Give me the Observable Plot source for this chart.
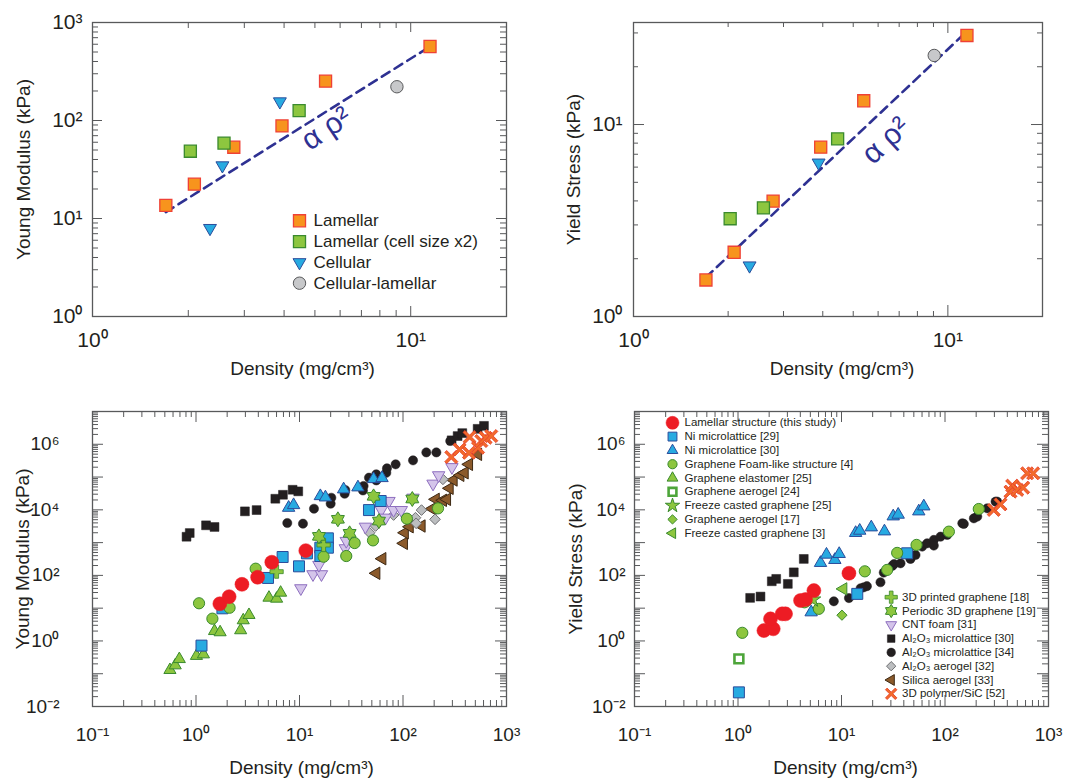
<!DOCTYPE html>
<html><head><meta charset="utf-8">
<script src="https://cdn.jsdelivr.net/npm/d3@7"></script>
<script src="https://cdn.jsdelivr.net/npm/@observablehq/plot@0.6"></script>
<style>
body{margin:0;background:#fff;}
#wrap{position:relative;width:1070px;height:781px;overflow:hidden;background:#fff;}
</style></head><body><div id="wrap"></div><script>
// ---------------- DATA: top panels (this study) ----------------
const lamellarDensity   = [1.70, 2.09, 2.78, 3.94, 5.40, 11.5];
const lamellarModulus   = [13.6, 22.4, 53.4, 88, 252, 569];
const lamellarYield     = [1.55, 2.16, 3.99, 7.62, 13.3, 29.1];
const lamellarX2Density = [2.03, 2.59, 4.46];
const lamellarX2Modulus = [48.6, 58.7, 126];
const lamellarX2Yield   = [3.23, 3.68, 8.42];
const cellularDensity   = [2.34, 2.56, 3.88];
const cellularModulus   = [7.96, 34.7, 156];
const cellularYield     = [1.84, null, 6.32];
const cellLamDensity    = [9.05];
const cellLamModulus    = [221];
const cellLamYield      = [22.9];
const fitDensity        = [1.70, 11.5];
const fitModulus        = [11.6, 569];
const fitYield          = [1.60, 30.6];
const topLegendLabels   = ["Lamellar", "Lamellar (cell size x2)", "Cellular", "Cellular-lamellar"];
const slopeLabel        = "α ρ²";
const slopeLabelModulus = [5.43, 82.9];
const slopeLabelYield   = [6.34, 8.26];

// ---------------- DATA: bottom-left, Young modulus comparison [density, kPa] ----------------
const bl_ni29 = [[1.13,0.72],[1.80,9.9],[4.96,83.5],[6.87,364],[9.89,189],[11.8,470],[15.9,700],[18.8,1350],[18.8,700],[15.9,390],[46.9,9830],[60.8,18600]];
const bl_ni30 = [[7.85,11600],[8.77,14000],[15.9,26300],[17.8,24000],[26.7,42300],[36.7,48600],[52.0,87000],[62.7,93400]];
const bl_foam4 = [[1.07,14.1],[1.44,4.78],[2.11,10.3],[3.77,160],[17.1,372],[28.3,390],[34.1,971],[51.3,1170],[109,5370],[218,11100]];
const bl_elast25 = [[0.56,0.13],[0.63,0.18],[0.69,0.28],[1.01,0.35],[1.18,0.39],[1.51,2.0],[1.71,1.84],[2.70,2.12],[2.86,4.27],[3.25,6.2],[5.07,20.9],[6.01,19.5],[6.57,29.7]];
const bl_printed18 = [[6.01,130],[17.1,845]];
const bl_periodic19 = [[15.4,1550],[23.5,5140],[30.5,1920],[52.0,25800],[58.6,4550],[123,21400]];
const bl_cnt31 = [[10.3,40.3],[13.5,108],[16.3,108],[15.4,208],[27.7,670],[28.3,1120],[43.3,3050],[61.7,9830],[67.9,5750],[73.2,18600],[81.1,9830],[96.3,9830],[125,23400],[195,62600],[221,113000],[297,200000]];
const bl_al30 = [[0.81,1510],[0.87,1960],[1.25,3370],[1.51,3000],[2.97,8990],[3.85,9830],[5.84,21800],[6.92,28800],[8.58,41000],[9.73,36600],[295,1.32e6],[337,1.78e6],[374,2.19e6],[526,2.96e6],[606,3.65e6]];
const bl_al34 = [[7.62,3960],[10.8,3780],[13.8,10800],[20.0,15400],[20.3,23400],[27.3,31000],[27.7,40100],[41.0,39100],[41.6,53400],[46.9,95700],[55.2,121000],[55.2,79200],[69.0,135000],[70.0,185000],[84.9,244000],[125,323000],[168,565000],[210,565000],[286,1.26e6]];
const bl_alAerogel32 = [[47.6,2000],[54.4,3210],[81.1,6940],[132,5750],[134,3880],[151,9830],[204,5140],[243,85100]];
const bl_silica33 = [[55.2,116],[63.1,323],[102,950],[104,2000],[116,3050],[151,3210],[192,10800],[207,20900],[243,19500],[266,20900],[282,45400],[308,81200],[358,113000],[394,135000],[434,244000],[531,493000]];
const bl_sic52 = [[293,408000],[352,696000],[440,1.66e6],[434,550000],[531,782000],[571,1.26e6],[628,1.58e6],[713,1.78e6]];

// ---------------- DATA: bottom-right, yield stress comparison [density, kPa] ----------------
const br_lamellar = [[1.78,2.07],[2.19,2.34],[2.06,4.72],[2.67,6.70],[2.88,6.70],[4.02,17.1],[4.49,18.3],[5.41,34.4],[11.8,116]];
const br_ni29 = [[1.02,0.027],[14.2,27.3],[43.1,472]];
const br_ni30 = [[5.09,7.5],[6.27,241],[7.16,431],[8.62,297],[9.50,452],[13.7,1980],[15.0,2320],[19.4,2930],[26.0,2210],[31.6,6340],[35.3,7140],[55.8,9010],[62.4,12800]];
const br_foam4 = [[1.10,1.77],[4.39,15.1],[6.04,9.53],[16.8,133],[27.6,147],[34.5,485],[53.1,851],[109,2160],[212,10600]];
const br_aerogel24 = [[1.02,0.284]];
const br_freeze25 = [[5.28,18.3]];
const br_aerogel17 = [[10.1,6.1]];
const br_freeze3 = [[10.4,38.7]];
const br_al30 = [[1.31,20.6],[1.65,22.6],[2.12,66.1],[2.34,78.2],[3.03,55.1],[3.46,124],[4.32,318]];
const br_al34 = [[8.43,16.2],[11.8,20.3],[15.3,40.5],[16.4,43.3],[17.6,47.0],[23.8,61.7],[25.6,122],[30.9,195],[32.2,222],[37.2,234],[46.4,318],[46.4,332],[51.9,422],[60.2,755],[67.3,953],[78.0,1210],[78.0,811],[90.5,1520],[105,1720],[147,3880],[152,3720],[190,5510],[205,6210],[256,11100],[308,17800],[319,17800]];
const br_sic52 = [[296,9930],[344,14700],[429,35900],[446,54700],[499,40500],[569,47500],[622,130000],[711,130000]];

const legendLeftLabels = ["Lamellar structure (this study)", "Ni microlattice [29]", "Ni microlattice [30]", "Graphene Foam-like structure [4]", "Graphene elastomer [25]", "Graphene aerogel [24]", "Freeze casted graphene [25]", "Graphene aerogel [17]", "Freeze casted graphene [3]"];
const legendRightLabels = ["3D printed graphene [18]", "Periodic 3D graphene [19]", "CNT foam [31]", "Al₂O₃ microlattice [30]", "Al₂O₃ microlattice [34]", "Al₂O₃ aerogel [32]", "Silica aerogel [33]", "3D polymer/SiC [52]"];

const xTitle = "Density (mg/cm³)";
const modulusTitle = "Young Modulus (kPa)";
const yieldTitle = "Yield Stress (kPa)";
const topXTicks = [1, 10];
const topModulusTicks = [1, 10, 100, 1000];
const topYieldTicks = [1, 10];
const bottomXTicks = [0.1, 1, 10, 100, 1000];
const bottomYTicks = [0.01, 1, 100, 1e4, 1e6];

// ---------------- STYLE ----------------
const FONT = '"Liberation Sans", Arial, Helvetica, sans-serif';
const INK = "#231F20", FRAME = "#58595B", NAVY = "#2E3192";
const ORANGE = "#F7941D", ORANGE_EDGE = "#EF4136";
const GREEN = "#8DC63F", GREEN_EDGE = "#3A8A2E";
const BLUE = "#27AAE1", BLUE_EDGE = "#2B4C9B";
const GREY = "#C7C8CA", GREY_EDGE = "#58595B";
const RED = "#ED1C24", BLACK = "#231F20";
const LAV = "#D4C4EA", LAV_EDGE = "#8E6FBF";
const BROWN = "#8B5A2B", BROWN_EDGE = "#3D2914";

const S3 = Math.sqrt(3);
const triUp = {draw(c, s) { const y = Math.sqrt(s / (S3 * 3)); c.moveTo(0, -2 * y); c.lineTo(S3 * y, y); c.lineTo(-S3 * y, y); c.closePath(); }};
const triDown = {draw(c, s) { const y = Math.sqrt(s / (S3 * 3)); c.moveTo(0, 2 * y); c.lineTo(-S3 * y, -y); c.lineTo(S3 * y, -y); c.closePath(); }};
const triLeft = {draw(c, s) { const y = Math.sqrt(s / (S3 * 3)); c.moveTo(-2 * y, 0); c.lineTo(y, -S3 * y); c.lineTo(y, S3 * y); c.closePath(); }};
const hexagram = {draw(c, s) { const R = Math.sqrt(s) * 0.78, r = R / S3 * 1.05; for (let i = 0; i < 12; i++) { const a = -Math.PI / 2 + i * Math.PI / 6, rr = i % 2 ? r : R; const px = rr * Math.cos(a), py = rr * Math.sin(a); if (i) c.lineTo(px, py); else c.moveTo(px, py); } c.closePath(); }};
function crossPts(s, wk) { const r = Math.sqrt(s) * 0.72, w = r * wk; return [[-w,-r],[w,-r],[w,-w],[r,-w],[r,w],[w,w],[w,r],[-w,r],[-w,w],[-r,w],[-r,-w],[-w,-w]]; }
const plusSym = {draw(c, s) { crossPts(s, 0.3).forEach(([x, y], i) => i ? c.lineTo(x, y) : c.moveTo(x, y)); c.closePath(); }};
const xSym = {draw(c, s) { const k = Math.SQRT1_2; crossPts(s, 0.17).forEach(([x, y], i) => { const X = (x - y) * k, Y = (x + y) * k; i ? c.lineTo(X, Y) : c.moveTo(X, Y); }); c.closePath(); }};

const topStyles = [
  {symbol: "square", r: 6.8, fill: ORANGE, stroke: ORANGE_EDGE, sw: 1.3},
  {symbol: "square", r: 6.8, fill: GREEN, stroke: GREEN_EDGE, sw: 1.3},
  {symbol: triDown, r: 4.8, fill: BLUE, stroke: BLUE_EDGE, sw: 1},
  {symbol: "circle", r: 6.2, fill: GREY, stroke: GREY_EDGE, sw: 1}
];
const st = {
  lamellar:  {symbol: "circle", r: 7, lr: 6.5, fill: RED, stroke: RED, sw: 0.5},
  ni29:      {symbol: "square", r: 6.2, lr: 5, fill: BLUE, stroke: BLUE_EDGE, sw: 1},
  ni30:      {symbol: triUp, r: 4.6, lr: 4, fill: BLUE, stroke: BLUE_EDGE, sw: 1},
  foam4:     {symbol: "circle", r: 5.6, lr: 4.6, fill: GREEN, stroke: GREEN_EDGE, sw: 1},
  elast25:   {symbol: triUp, r: 4.5, lr: 4, fill: GREEN, stroke: GREEN_EDGE, sw: 1},
  aerogel24: {symbol: "square", r: 5, lr: 4.4, fill: "#fff", stroke: "#4DA53A", sw: 2.6},
  freeze25:  {symbol: "star", r: 5, lr: 4.5, fill: GREEN, stroke: GREEN_EDGE, sw: 1},
  aerogel17: {symbol: "diamond2", r: 4.6, lr: 4.2, fill: GREEN, stroke: GREEN_EDGE, sw: 1},
  freeze3:   {symbol: triLeft, r: 4.6, lr: 4, fill: GREEN, stroke: GREEN_EDGE, sw: 1},
  printed18: {symbol: plusSym, r: 5.2, lr: 4.8, fill: GREEN, stroke: GREEN_EDGE, sw: 0.8},
  periodic19:{symbol: hexagram, r: 5.4, lr: 4.8, fill: GREEN, stroke: GREEN_EDGE, sw: 1},
  cnt31:     {symbol: triDown, r: 4.6, lr: 4, fill: LAV, stroke: LAV_EDGE, sw: 1},
  al30:      {symbol: "square", r: 5, lr: 4.3, fill: BLACK, stroke: BLACK, sw: 0.5},
  al34:      {symbol: "circle", r: 4.6, lr: 4.3, fill: BLACK, stroke: BLACK, sw: 0.5},
  alAero32:  {symbol: "diamond2", r: 4.8, lr: 4.2, fill: "#BCBEC0", stroke: "#6D6E71", sw: 1},
  silica33:  {symbol: triLeft, r: 4.6, lr: 4, fill: BROWN, stroke: BROWN_EDGE, sw: 1},
  sic52:     {symbol: xSym, r: 6.2, lr: 5.4, fill: "#F26B2A", stroke: "#E8412C", sw: 0.9}
};
const legendLeftKeys = ["lamellar","ni29","ni30","foam4","elast25","aerogel24","freeze25","aerogel17","freeze3"];
const legendRightKeys = ["printed18","periodic19","cnt31","al30","al34","alAero32","silica33","sic52"];

// ---------------- HELPERS ----------------
const pow10 = d => { const e = Math.round(Math.log10(d)); return "10" + String(e).replace(/-/g, "⁻").replace(/\d/g, c => "⁰¹²³⁴⁵⁶⁷⁸⁹"[+c]); };
const zip = (xs, ys) => xs.map((x, i) => [x, ys[i]]).filter(d => d[1] != null);

function decadeTicks(lo, hi) {
  const major = [], minor = [];
  for (let e = Math.floor(Math.log10(lo)); e <= Math.ceil(Math.log10(hi)); e++) {
    const b = Math.pow(10, e);
    if (b >= lo * 0.999 && b <= hi * 1.001) major.push(b);
    for (let k = 2; k <= 9; k++) { const v = k * b; if (v > lo * 1.001 && v < hi * 0.999) minor.push(v); }
  }
  return {major, minor};
}
function tickMarks(xd, yd, fw, fh, maj, min) {
  const xt = decadeTicks(xd[0], xd[1]), yt = decadeTicks(yd[0], yd[1]);
  const s = {stroke: FRAME, strokeWidth: 1};
  return [
    Plot.tickX(xt.major, {x: d => d, insetTop: fh - maj, ...s}),
    Plot.tickX(xt.major, {x: d => d, insetBottom: fh - maj, ...s}),
    Plot.tickX(xt.minor, {x: d => d, insetTop: fh - min, ...s}),
    Plot.tickX(xt.minor, {x: d => d, insetBottom: fh - min, ...s}),
    Plot.tickY(yt.major, {y: d => d, insetRight: fw - maj, ...s}),
    Plot.tickY(yt.major, {y: d => d, insetLeft: fw - maj, ...s}),
    Plot.tickY(yt.minor, {y: d => d, insetRight: fw - min, ...s}),
    Plot.tickY(yt.minor, {y: d => d, insetLeft: fw - min, ...s})
  ];
}
function dots(data, s) {
  return Plot.dot(data, {x: d => d[0], y: d => d[1], symbol: s.symbol, r: s.r, fill: s.fill, stroke: s.stroke, strokeWidth: s.sw});
}
function legend(labels, styles, {mx, tx, y0, step, fontSize, useLr}) {
  return labels.flatMap((label, i) => {
    const s = styles[i];
    return [
      Plot.dot([label], {frameAnchor: "top-left", dx: mx, dy: y0 + i * step, symbol: s.symbol, r: useLr ? s.lr : s.r, fill: s.fill, stroke: s.stroke, strokeWidth: s.sw}),
      Plot.text([label], {frameAnchor: "top-left", dx: tx, dy: y0 + i * step, text: d => d, textAnchor: "start", lineAnchor: "middle", fontSize, fill: INK})
    ];
  });
}
function xTitleMark(dx, dy) {
  return Plot.text([xTitle], {frameAnchor: "bottom", dx, dy, text: d => d, textAnchor: "middle", lineAnchor: "middle", fontSize: 19, fill: INK});
}
function yTitleMark(label, dx) {
  return Plot.text([label], {frameAnchor: "left", dx, rotate: -90, text: d => d, textAnchor: "middle", lineAnchor: "middle", fontSize: 19, fill: INK});
}
function place(el, left, top) { el.style.position = "absolute"; el.style.left = left + "px"; el.style.top = top + "px"; document.getElementById("wrap").appendChild(el); }

const common = {style: {fontFamily: FONT, color: INK, background: "transparent", overflow: "visible"}};

// ---------------- TOP-LEFT ----------------
{
  const W = 535, H = 390, m = {l: 92, r: 29, t: 22, b: 74};
  const xd = [1, 20], yd = [1, 1000];
  const fw = W - m.l - m.r, fh = H - m.t - m.b;
  const svg = Plot.plot({
    ...common, width: W, height: H, marginLeft: m.l, marginRight: m.r, marginTop: m.t, marginBottom: m.b,
    x: {type: "log", domain: xd, axis: null}, y: {type: "log", domain: yd, axis: null},
    marks: [
      ...tickMarks(xd, yd, fw, fh, 10, 6),
      Plot.frame({stroke: FRAME, strokeWidth: 1.3}),
      Plot.axisX({ticks: topXTicks, tickFormat: pow10, tickSize: 0, tickPadding: 16, fontSize: 21, label: null, fill: INK}),
      Plot.axisY({ticks: topModulusTicks, tickFormat: pow10, tickSize: 0, tickPadding: 10, fontSize: 21, label: null, fill: INK}),
      xTitleMark(3, 52),
      yTitleMark(modulusTitle, -69),
      Plot.line(zip(fitDensity, fitModulus), {x: d => d[0], y: d => d[1], stroke: NAVY, strokeWidth: 2.6, strokeDasharray: "9,6"}),
      dots(zip(lamellarDensity, lamellarModulus), topStyles[0]),
      dots(zip(lamellarX2Density, lamellarX2Modulus), topStyles[1]),
      dots(zip(cellularDensity, cellularModulus), topStyles[2]),
      dots(zip(cellLamDensity, cellLamModulus), topStyles[3]),
      Plot.text([slopeLabel], {x: slopeLabelModulus[0], y: slopeLabelModulus[1], text: d => d, rotate: -34, fontSize: 30, fill: NAVY}),
      ...legend(topLegendLabels, topStyles, {mx: 207, tx: 221, y0: 198.3, step: 20.8, fontSize: 17})
    ]
  });
  place(svg, 0, 0);
}

// ---------------- TOP-RIGHT ----------------
{
  const W = 535, H = 390, m = {l: 98, r: 28, t: 22, b: 74};
  const xd = [1, 20], yd = [1, 34];
  const fw = W - m.l - m.r, fh = H - m.t - m.b;
  const svg = Plot.plot({
    ...common, width: W, height: H, marginLeft: m.l, marginRight: m.r, marginTop: m.t, marginBottom: m.b,
    x: {type: "log", domain: xd, axis: null}, y: {type: "log", domain: yd, axis: null},
    marks: [
      ...tickMarks(xd, yd, fw, fh, 11, 5),
      Plot.frame({stroke: FRAME, strokeWidth: 1.3}),
      Plot.axisX({ticks: topXTicks, tickFormat: pow10, tickSize: 0, tickPadding: 16, fontSize: 21, label: null, fill: INK}),
      Plot.axisY({ticks: topYieldTicks, tickFormat: pow10, tickSize: 0, tickPadding: 11, fontSize: 21, label: null, fill: INK}),
      xTitleMark(4, 52),
      yTitleMark(yieldTitle, -60),
      Plot.line(zip(fitDensity, fitYield), {x: d => d[0], y: d => d[1], stroke: NAVY, strokeWidth: 2.6, strokeDasharray: "9,6"}),
      dots(zip(lamellarDensity, lamellarYield), topStyles[0]),
      dots(zip(lamellarX2Density, lamellarX2Yield), topStyles[1]),
      dots(zip(cellularDensity, cellularYield), topStyles[2]),
      dots(zip(cellLamDensity, cellLamYield), topStyles[3]),
      Plot.text([slopeLabel], {x: slopeLabelYield[0], y: slopeLabelYield[1], text: d => d, rotate: -43, fontSize: 30, fill: NAVY})
    ]
  });
  place(svg, 535, 0);
}

// ---------------- BOTTOM-LEFT ----------------
{
  const W = 535, H = 391, m = {l: 92, r: 29, t: 21, b: 75};
  const xd = [0.1, 1000], yd = [0.01, 1e7];
  const fw = W - m.l - m.r, fh = H - m.t - m.b;
  const svg = Plot.plot({
    ...common, width: W, height: H, marginLeft: m.l, marginRight: m.r, marginTop: m.t, marginBottom: m.b,
    x: {type: "log", domain: xd, axis: null}, y: {type: "log", domain: yd, axis: null},
    marks: [
      ...tickMarks(xd, yd, fw, fh, 11, 6),
      Plot.frame({stroke: FRAME, strokeWidth: 1.3}),
      Plot.axisX({ticks: bottomXTicks, tickFormat: pow10, tickSize: 0, tickPadding: 21, fontSize: 19, label: null, fill: INK}),
      Plot.axisY({ticks: bottomYTicks, tickFormat: pow10, tickSize: 0, tickPadding: 33, fontSize: 19, label: null, fill: INK}),
      xTitleMark(2, 61),
      yTitleMark(modulusTitle, -70),
      dots(bl_al30, st.al30),
      dots(bl_al34, st.al34),
      dots(bl_ni30, st.ni30),
      dots(bl_silica33, st.silica33),
      dots(bl_alAerogel32, st.alAero32),
      dots(bl_cnt31, st.cnt31),
      dots(bl_elast25, st.elast25),
      dots(bl_ni29, st.ni29),
      dots(bl_foam4, st.foam4),
      dots(bl_printed18, st.printed18),
      dots(bl_periodic19, st.periodic19),
      dots(bl_sic52, st.sic52),
      dots(zip(lamellarDensity, lamellarModulus), st.lamellar)
    ]
  });
  place(svg, 0, 390);
}

// ---------------- BOTTOM-RIGHT ----------------
{
  const W = 535, H = 391, m = {l: 99, r: 22, t: 21, b: 75};
  const xd = [0.1, 1000], yd = [0.01, 1e7];
  const fw = W - m.l - m.r, fh = H - m.t - m.b;
  const svg = Plot.plot({
    ...common, width: W, height: H, marginLeft: m.l, marginRight: m.r, marginTop: m.t, marginBottom: m.b,
    x: {type: "log", domain: xd, axis: null}, y: {type: "log", domain: yd, axis: null},
    marks: [
      ...tickMarks(xd, yd, fw, fh, 11, 6),
      Plot.frame({stroke: FRAME, strokeWidth: 1.3}),
      Plot.axisX({ticks: bottomXTicks, tickFormat: pow10, tickSize: 0, tickPadding: 21, fontSize: 19, label: null, fill: INK}),
      Plot.axisY({ticks: bottomYTicks, tickFormat: pow10, tickSize: 0, tickPadding: 9, fontSize: 19, label: null, fill: INK}),
      xTitleMark(4, 61),
      yTitleMark(yieldTitle, -59),
      dots(br_al30, st.al30),
      dots(br_al34, st.al34),
      dots(br_ni30, st.ni30),
      dots(br_ni29, st.ni29),
      dots(br_foam4, st.foam4),
      dots(br_aerogel24, st.aerogel24),
      dots(br_freeze25, st.freeze25),
      dots(br_aerogel17, st.aerogel17),
      dots(br_freeze3, st.freeze3),
      dots(br_sic52, st.sic52),
      dots(br_lamellar, st.lamellar),
      ...legend(legendLeftLabels, legendLeftKeys.map(k => st[k]), {mx: 38, tx: 50, y0: 11.3, step: 13.8, fontSize: 11.5, useLr: true}),
      ...legend(legendRightLabels, legendRightKeys.map(k => st[k]), {mx: 256.7, tx: 267.5, y0: 185.7, step: 13.8, fontSize: 11.5, useLr: true})
    ]
  });
  place(svg, 535, 390);
}
</script></body></html>
